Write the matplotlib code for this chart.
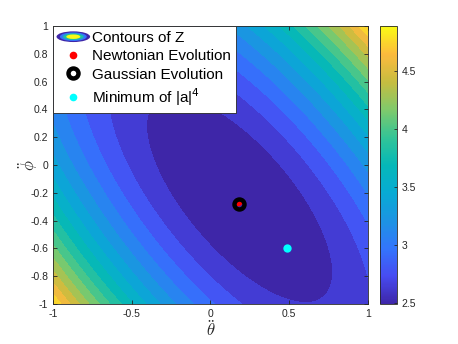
import matplotlib
matplotlib.use("Agg")
import matplotlib.pyplot as plt
import numpy as np
from matplotlib.colors import LinearSegmentedColormap, Normalize
from matplotlib.cm import ScalarMappable
from matplotlib.patches import Ellipse
from matplotlib.legend_handler import HandlerBase
from matplotlib.lines import Line2D

# surface Z ~ z_min + quadratic bowl, coefficients
z_min = 2.49
bowl_center = (0.185, -0.245)
coef_xx, coef_xy, coef_yy = 0.863, 0.97, 0.543
n_levels = 17

# marked points
newton_pt = (0.172, -0.268)
gauss_pt = (0.181, -0.283)
min_a4_pt = (0.486, -0.595)

x_ticks = [-1, -0.5, 0, 0.5, 1]
y_ticks = [-1, -0.8, -0.6, -0.4, -0.2, 0, 0.2, 0.4, 0.6, 0.8, 1]
cbar_ticks = [2.5, 3, 3.5, 4, 4.5]
legend_labels = ["Contours of Z", "Newtonian Evolution", "Gaussian Evolution",
                 r"Minimum of |a|$^4$"]

# approximate MATLAB parula
parula_pts = [
    (0.00, (0.243, 0.150, 0.660)),
    (0.10, (0.278, 0.298, 0.949)),
    (0.20, (0.200, 0.460, 0.990)),
    (0.30, (0.110, 0.580, 0.890)),
    (0.40, (0.030, 0.670, 0.830)),
    (0.50, (0.020, 0.720, 0.720)),
    (0.60, (0.200, 0.770, 0.590)),
    (0.70, (0.500, 0.790, 0.420)),
    (0.80, (0.780, 0.740, 0.250)),
    (0.90, (0.990, 0.730, 0.240)),
    (1.00, (0.977, 0.984, 0.081)),
]
parula = LinearSegmentedColormap.from_list("parula", parula_pts)

plt.rcParams['font.family'] = ['Liberation Sans', 'DejaVu Sans']
plt.rcParams['mathtext.fontset'] = 'cm'
txt = (0.15, 0.15, 0.15)

xs = np.linspace(-1, 1, 401)
ys = np.linspace(-1, 1, 401)
X, Y = np.meshgrid(xs, ys)
dx = X - bowl_center[0]
dy = Y - bowl_center[1]
Z = z_min + coef_xx * dx**2 + coef_xy * dx * dy + coef_yy * dy**2

zlo, zhi = Z.min(), Z.max()
levels = np.linspace(zlo, zhi, n_levels)
norm = Normalize(zlo, zhi)
band_colors = [parula(norm(l)) for l in levels[:-1]]

fig = plt.figure(figsize=(4.58, 3.44), dpi=100)
ax = fig.add_axes([0.1157, 0.1163, 0.6878, 0.8081])
cax = fig.add_axes([0.8297, 0.1163, 0.0371, 0.8081])

ax.contourf(X, Y, Z, levels=levels, colors=band_colors)

ax.plot(*newton_pt, 'o', color='red', ms=5.5, mec='none', zorder=3)
ax.plot(*gauss_pt, 'o', mfc='none', mec='black', ms=7.2, mew=3.2, zorder=4)
ax.plot(*gauss_pt, 'o', color='red', ms=1.3, mec='none', zorder=5)
ax.plot(*min_a4_pt, 'o', color='cyan', ms=6, mec='none', zorder=3)

ax.set_xlim(-1, 1)
ax.set_ylim(-1, 1)
ax.set_xticks(x_ticks)
ax.set_xticklabels([f"{v:g}" for v in x_ticks])
ax.set_yticks(y_ticks)
ax.set_yticklabels([f"{v:g}" for v in y_ticks])
ax.tick_params(direction='in', length=3, width=0.6, labelsize=7.5,
               colors=txt, top=True, right=True)
for s in ax.spines.values():
    s.set_color(txt)
    s.set_linewidth(0.6)
ax.set_xlabel(r"$\ddot{\theta}$", fontsize=12, color=txt, labelpad=0)
ax.set_ylabel(r"$\ddot{\phi}$", fontsize=12, color=txt)
ax.yaxis.set_label_coords(-0.04, 0.5)


class HandlerContour(HandlerBase):
    def create_artists(self, legend, orig_handle, xdescent, ydescent,
                       width, height, fontsize, trans):
        cx = width / 2 - xdescent
        cy = height / 2 - ydescent
        arts = []
        for sc, col in [(1.0, parula(0.0)), (0.8, parula(0.2)),
                        (0.62, parula(0.55)), (0.42, parula(1.0))]:
            arts.append(Ellipse((cx, cy), width * 1.1 * sc, height * 1.0 * sc,
                                facecolor=col, edgecolor='none', transform=trans))
        return arts


contour_handle = Ellipse((0, 0), 1, 1)
h_newton = Line2D([], [], ls='none', marker='o', color='red', ms=5.5, mec='none')
h_gauss = Line2D([], [], ls='none', marker='o', mfc='none', mec='black', ms=7.2, mew=3.2)
h_min = Line2D([], [], ls='none', marker='o', color='cyan', ms=5.5, mec='none')

leg = ax.legend([contour_handle, h_newton, h_gauss, h_min], legend_labels,
                handler_map={Ellipse: HandlerContour()},
                loc='upper left', bbox_to_anchor=(0, 1), borderaxespad=0,
                fontsize=11, fancybox=False, framealpha=1,
                handlelength=2.0, handletextpad=0.2, labelspacing=0.28,
                borderpad=0.33)
leg.get_frame().set_edgecolor(txt)
leg.get_frame().set_linewidth(0.6)
leg.get_texts()[3].set_math_fontfamily('dejavusans')

sm = ScalarMappable(norm=norm, cmap=parula)
cb = fig.colorbar(sm, cax=cax, ticks=cbar_ticks)
cb.ax.set_yticklabels([f"{v:g}" for v in cbar_ticks])
cb.ax.tick_params(direction='in', length=2.5, width=0.6, labelsize=7.5, colors=txt)
cb.outline.set_edgecolor(txt)
cb.outline.set_linewidth(0.6)

fig.savefig("out.png", dpi=100)
